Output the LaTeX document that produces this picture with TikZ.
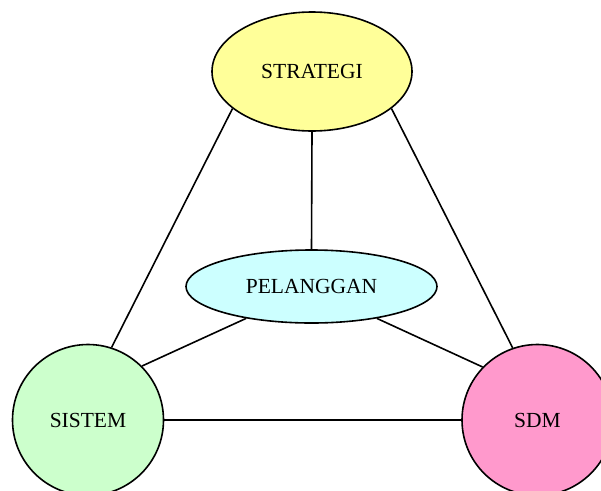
\documentclass[tikz,border=0pt]{standalone}
\usepackage{fontspec}
\setmainfont{Liberation Serif}
\usetikzlibrary{shapes.geometric}
\definecolor{strategiyellow}{HTML}{FFFF99}
\definecolor{pelanggancyan}{HTML}{CCFFFF}
\definecolor{sistemgreen}{HTML}{CCFFCC}
\definecolor{sdmpink}{HTML}{FF99CC}
\begin{document}
\begin{tikzpicture}[x=1pt, y=-1pt, line width=1.6pt,
    every node/.style={draw, line width=1.6pt, inner sep=0pt, font=\fontsize{21.5}{25}\selectfont}]
    \clip (0,0) rectangle (601,490);
    \useasboundingbox (0,0) rectangle (601,490);
    % Ellipses
    \node[ellipse, fill=strategiyellow, minimum width=200pt, minimum height=119pt] (strategi) at (312,71.5) {STRATEGI};
    \node[ellipse, fill=pelanggancyan, minimum width=251pt, minimum height=73pt] (pelanggan) at (311.5,286.5) {PELANGGAN};
    % Circles
    \node[circle, fill=sistemgreen, minimum size=151pt] (sistem) at (88,420) {SISTEM};
    \node[circle, fill=sdmpink, minimum size=151pt] (sdm) at (537.5,420) {SDM};

    \draw (strategi.205) -- (sistem.72);
    \draw (strategi.335) -- (sdm.109);
    \draw (strategi.south) -- (pelanggan.north);
    \draw (pelanggan.206) -- (sistem.45);
    \draw (pelanggan.334) -- (sdm.136);
    \draw (sistem.east) -- (sdm.west);
  \end{tikzpicture}
\end{document}
